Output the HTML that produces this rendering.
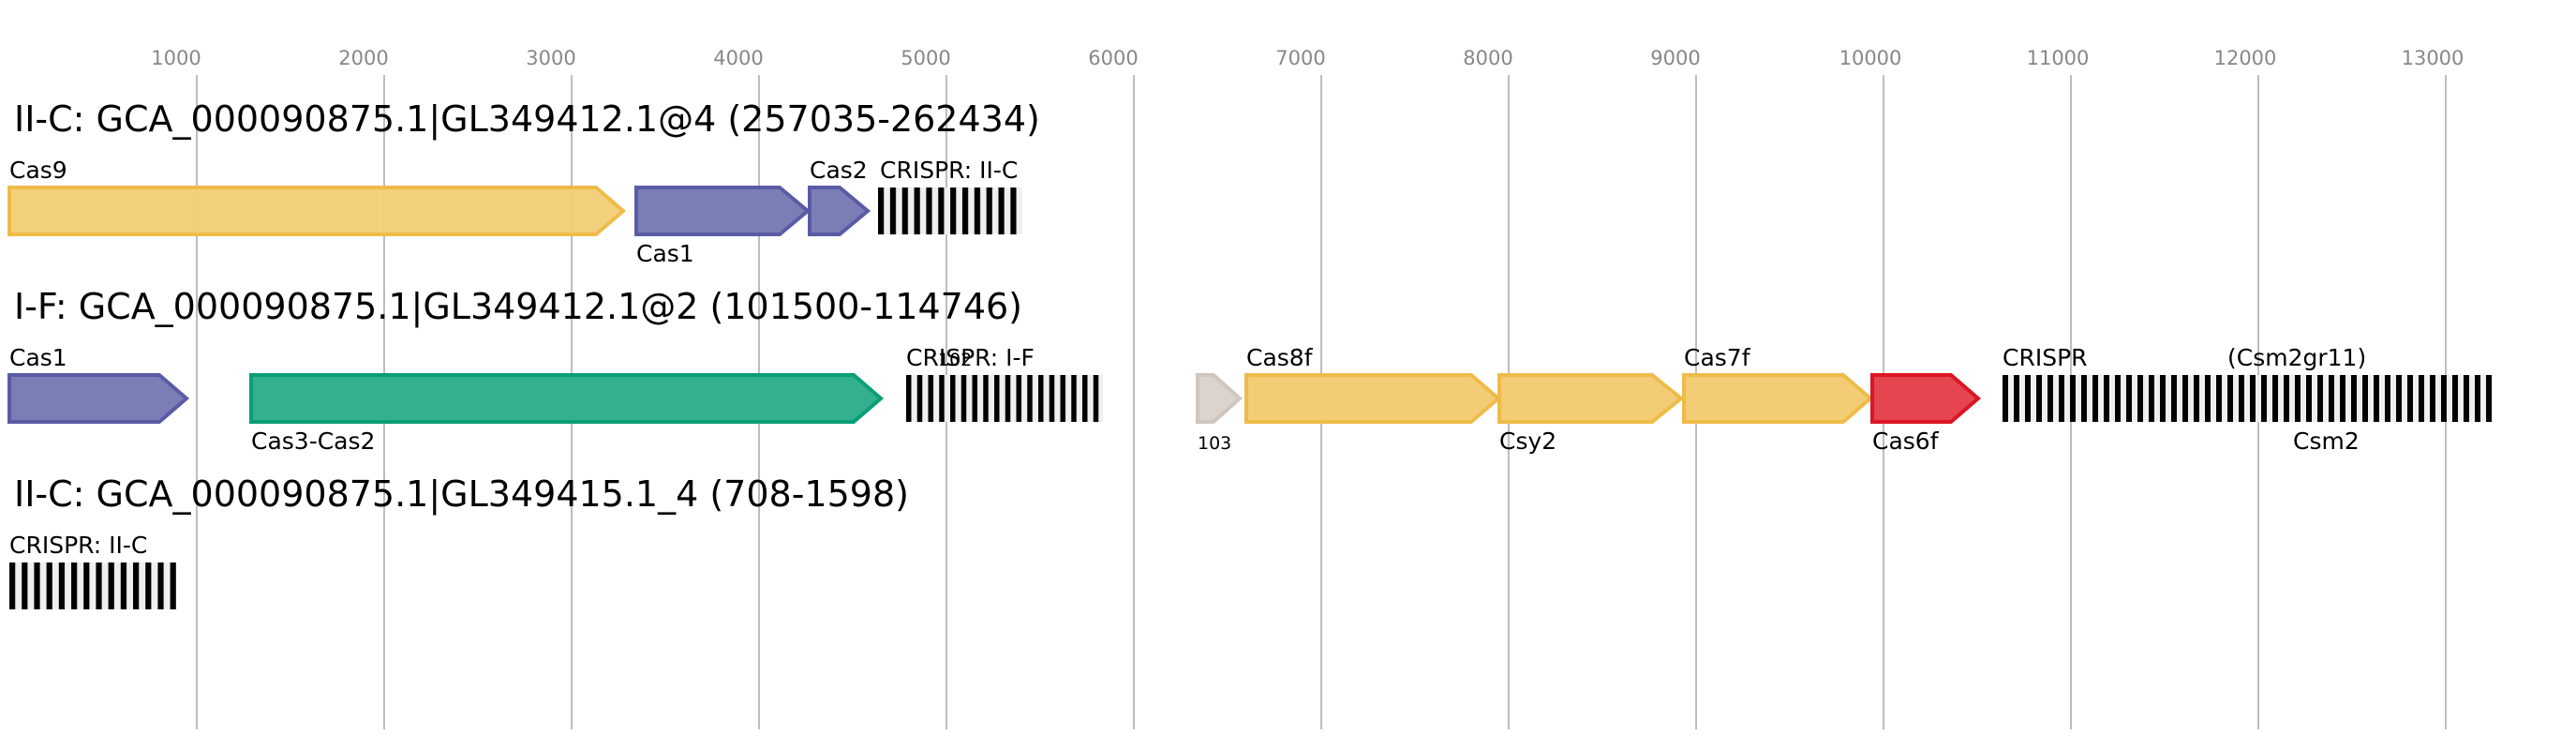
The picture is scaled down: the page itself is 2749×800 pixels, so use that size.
<!DOCTYPE html>
<html><head><meta charset="utf-8"><style>
html,body{margin:0;padding:0;background:#fff;}
svg{display:block;font-family:"DejaVu Sans","Liberation Sans",sans-serif;}
</style></head><body>
<svg width="2749" height="800" viewBox="0 0 2749 800" xmlns="http://www.w3.org/2000/svg">
<defs>
<pattern id="p1" x="937" y="0" width="12.85" height="10" patternUnits="userSpaceOnUse"><rect x="0" y="0" width="6.2" height="10" fill="#000"/></pattern>
<pattern id="p2" x="967" y="0" width="11.75" height="10" patternUnits="userSpaceOnUse"><rect x="0" y="0" width="5.5" height="10" fill="#000"/></pattern>
<pattern id="p3" x="2137" y="0" width="12" height="10" patternUnits="userSpaceOnUse"><rect x="0" y="0" width="6" height="10" fill="#000"/></pattern>
<pattern id="p4" x="10" y="0" width="13.2" height="10" patternUnits="userSpaceOnUse"><rect x="0" y="0" width="6.2" height="10" fill="#000"/></pattern>
</defs>
<g stroke="#bdbdbd" stroke-width="2">
<line x1="210" y1="80" x2="210" y2="778"/><line x1="410" y1="80" x2="410" y2="778"/><line x1="610" y1="80" x2="610" y2="778"/><line x1="810" y1="80" x2="810" y2="778"/><line x1="1010" y1="80" x2="1010" y2="778"/><line x1="1210" y1="80" x2="1210" y2="778"/><line x1="1410" y1="80" x2="1410" y2="778"/><line x1="1610" y1="80" x2="1610" y2="778"/><line x1="1810" y1="80" x2="1810" y2="778"/><line x1="2010" y1="80" x2="2010" y2="778"/><line x1="2210" y1="80" x2="2210" y2="778"/><line x1="2410" y1="80" x2="2410" y2="778"/><line x1="2610" y1="80" x2="2610" y2="778"/>
</g>
<g fill="#888" font-size="21" text-anchor="middle">
<text x="188" y="69">1000</text><text x="388" y="69">2000</text><text x="588" y="69">3000</text><text x="788" y="69">4000</text><text x="988" y="69">5000</text><text x="1188" y="69">6000</text><text x="1388" y="69">7000</text><text x="1588" y="69">8000</text><text x="1788" y="69">9000</text><text x="1996" y="69">10000</text><text x="2196" y="69">11000</text><text x="2396" y="69">12000</text><text x="2596" y="69">13000</text>
</g>
<g font-size="38" fill="#000">
<text x="15" y="140">II-C: GCA_000090875.1|GL349412.1@4 (257035-262434)</text>
<text x="15" y="340">I-F: GCA_000090875.1|GL349412.1@2 (101500-114746)</text>
<text x="15" y="540">II-C: GCA_000090875.1|GL349415.1_4 (708-1598)</text>
</g>
<g stroke-width="4" stroke-linejoin="miter">
<polygon points="10,200 636,200 665,225 636,250 10,250" fill="#f2cd75" stroke="#efbb48" fill-opacity="0.95"/>
<polygon points="679,200 832,200 862,225 832,250 679,250" fill="#7b7db5" stroke="#5a5ba6"/>
<polygon points="864,200 896,200 926,225 896,250 864,250" fill="#7b7db5" stroke="#5a5ba6"/>
<polygon points="10,400 170,400 199,425 170,450 10,450" fill="#7b7db5" stroke="#5a5ba6"/>
<polygon points="268,400 911,400 940,425 911,450 268,450" fill="#33b08f" stroke="#0a9e74"/>
<polygon points="1278,400 1295,400 1323,425 1295,450 1278,450" fill="#ddd3cd" stroke="#d0c6bf"/>
<polygon points="1330,400 1570,400 1599,425 1570,450 1330,450" fill="#f2cd75" stroke="#efbb48"/>
<polygon points="1600,400 1763,400 1794,425 1763,450 1600,450" fill="#f2cd75" stroke="#efbb48"/>
<polygon points="1797,400 1967,400 1996,425 1967,450 1797,450" fill="#f2cd75" stroke="#efbb48"/>
<polygon points="1998,400 2082,400 2111,425 2082,450 1998,450" fill="#e5454f" stroke="#dc1623"/>
</g>
<rect x="937" y="200" width="154" height="50" fill="#efefef"/><rect x="937" y="200" width="154" height="50" fill="url(#p1)"/>
<rect x="967" y="400" width="210" height="50" fill="#efefef"/><rect x="967" y="400" width="210" height="50" fill="url(#p2)"/>
<rect x="2137" y="400" width="523" height="50" fill="#efefef"/><rect x="2137" y="400" width="523" height="50" fill="url(#p3)"/>
<rect x="10" y="600" width="178" height="50" fill="#efefef"/><rect x="10" y="600" width="178" height="50" fill="url(#p4)"/>
<g font-size="25" fill="#000">
<text x="10" y="190">Cas9</text>
<text x="679" y="279">Cas1</text>
<text x="864" y="190">Cas2</text>
<text x="939" y="190">CRISPR: II-C</text>
<text x="10" y="390">Cas1</text>
<text x="268" y="479">Cas3-Cas2</text>
<text x="967" y="390">CRISPR: I-F</text>
<text x="1330" y="390">Cas8f</text>
<text x="1600" y="479">Csy2</text>
<text x="1797" y="390">Cas7f</text>
<text x="1998" y="479">Cas6f</text>
<text x="2137" y="390">CRISPR</text>
<text x="2377" y="390">(Csm2gr11)</text>
<text x="2447" y="479">Csm2</text>
<text x="10" y="590">CRISPR: II-C</text>
</g>
<text x="1001" y="390" font-size="19" fill="#000">102</text>
<text x="1278" y="479" font-size="19" fill="#000">103</text>
</svg>
</body></html>
